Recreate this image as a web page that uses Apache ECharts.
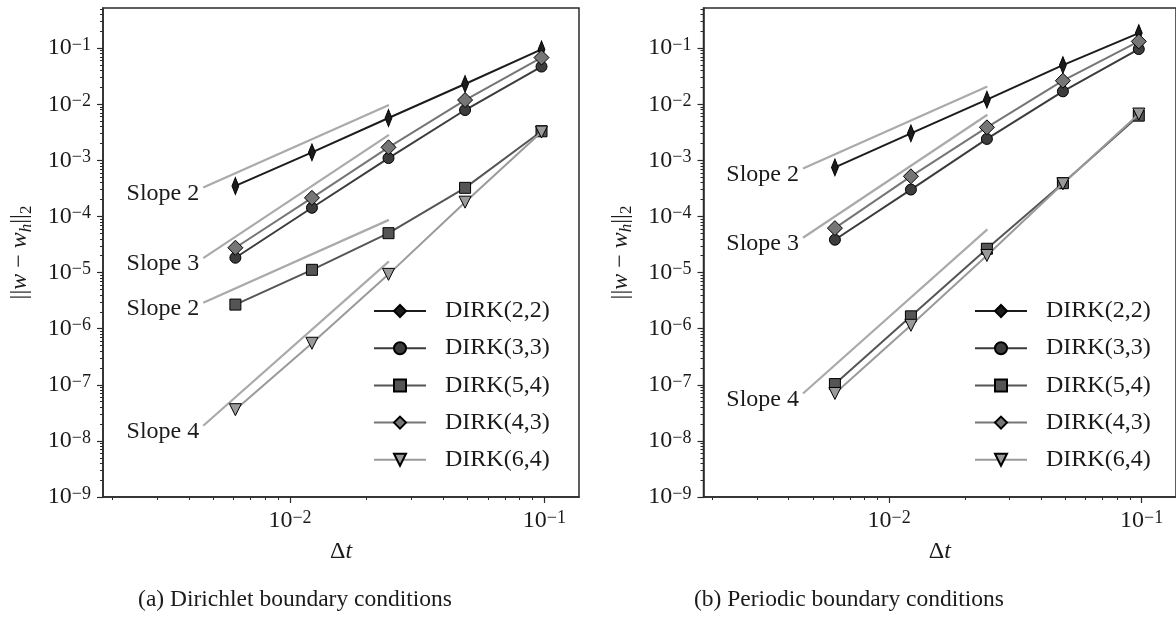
<!DOCTYPE html>
<html>
<head>
<meta charset="utf-8">
<title>DIRK convergence</title>
<script src="https://cdn.jsdelivr.net/npm/echarts@6/dist/echarts.min.js"></script>
<style>
  html, body { margin: 0; padding: 0; background: #fff; }
  #chart { width: 1176px; height: 623px; }
</style>
</head>
<body>
<div id="chart"></div>
<script>
// time steps (same for both panels)
const dt = [0.0061, 0.0122, 0.0244, 0.0488, 0.0975]
const names = ['DIRK(2,2)', 'DIRK(3,3)', 'DIRK(5,4)', 'DIRK(4,3)', 'DIRK(6,4)']

// (a) Dirichlet boundary conditions
const dirichlet22 = [3.5e-4, 1.39e-3, 5.7e-3, 0.023, 0.095]
const dirichlet33 = [1.84e-5, 1.43e-4, 1.1e-3, 7.9e-3, 0.047]
const dirichlet54 = [2.69e-6, 1.12e-5, 5.04e-5, 3.24e-4, 3.3e-3]
const dirichlet43 = [2.77e-5, 2.15e-4, 1.71e-3, 0.0119, 0.068]
const dirichlet64 = [3.6e-8, 5.5e-7, 9.3e-6, 1.8e-4, 3.2e-3]

// (b) Periodic boundary conditions
const periodic22 = [7.5e-4, 3.03e-3, 0.0121, 0.05, 0.186]
const periodic33 = [3.85e-5, 3.02e-4, 2.41e-3, 0.017, 0.0964]
const periodic54 = [1.03e-7, 1.66e-6, 2.66e-5, 3.92e-4, 6.27e-3]
const periodic43 = [6.2e-5, 5.2e-4, 3.88e-3, 0.0263, 0.132]
const periodic64 = [7e-8, 1.15e-6, 2.02e-5, 3.82e-4, 6.7e-3]

// slope guide lines: start / end at slopeDt
const slopeDt = [0.00456, 0.0245]
const dirichletSlopeLabels = ['Slope 2', 'Slope 3', 'Slope 2', 'Slope 4']
const dirichletSlopeStart = [3.3e-4, 1.81e-5, 2.91e-6, 1.86e-8]
const dirichletSlopeEnd = [9.7e-3, 2.85e-3, 8.7e-5, 1.58e-5]
const periodicSlopeLabels = ['Slope 2', 'Slope 3', 'Slope 4']
const periodicSlopeStart = [7.2e-4, 4.18e-5, 7.0e-8]
const periodicSlopeEnd = [0.0208, 6.5e-3, 5.88e-5]

// axes
const xMin = 0.00184
const xMax = 0.1369
const yMin = 1e-9
const yMax = 0.52
const xMajorTicks = [0.01, 0.1]
const xMinorTicks = [0.002, 0.003, 0.004, 0.005, 0.006, 0.007, 0.008, 0.009,
  0.02, 0.03, 0.04, 0.05, 0.06, 0.07, 0.08, 0.09]
const yMajorTicks = [1e-9, 1e-8, 1e-7, 1e-6, 1e-5, 1e-4, 1e-3, 1e-2, 1e-1]

let yMinorTicks = []
for (let p = -9; p <= -1; p++) {
  for (let m = 2; m <= 9; m++) {
    let v = m * Math.pow(10, p)
    if (v < yMax) yMinorTicks.push(v)
  }
}

const FONT = '"Liberation Serif", "DejaVu Serif", serif'
const INK = '#1a1a1a'
const FRAME = '#2a2a2a'
const SLOPE = '#aaaaaa'

const thinDiamond = 'path://M5,0L10,8L5,16L0,8Z'
const seriesStyle = [
  {color: '#1c1c1c', symbol: thinDiamond, size: [11, 17], rotate: 0},
  {color: '#3c3c3c', symbol: 'circle', size: 11, rotate: 0},
  {color: '#555555', symbol: 'rect', size: 11, rotate: 0},
  {color: '#767676', symbol: 'diamond', size: 15, rotate: 0},
  {color: '#9a9a9a', symbol: 'triangle', size: 12, rotate: 180}
]

function powerLabel (v) {
  let e = Math.round(Math.log10(v))
  return '{b|10}{e|' + (e < 0 ? '\u2212' + (-e) : e) + '}'
}

const powerRich = {
  b: {fontFamily: FONT, fontSize: 24, lineHeight: 24, color: INK},
  e: {fontFamily: FONT, fontSize: 18, lineHeight: 18, color: INK, verticalAlign: 'top'}
}

function makeAxes (g) {
  let xAxis = [
    {
      type: 'log', gridIndex: g, position: 'bottom', min: xMin, max: xMax,
      axisLine: {show: true, onZero: false, lineStyle: {color: FRAME, width: 1.5}},
      axisTick: {show: true, customValues: xMajorTicks, length: 6, lineStyle: {color: FRAME, width: 1.2}},
      axisLabel: {customValues: xMajorTicks, formatter: powerLabel, rich: powerRich, margin: 12},
      splitLine: {show: false},
      name: '{d|\u0394}{t|t}',
      nameLocation: 'middle',
      nameGap: 43,
      nameTextStyle: {
        rich: {
          d: {fontFamily: FONT, fontSize: 24, color: INK},
          t: {fontFamily: FONT, fontSize: 24, fontStyle: 'italic', color: INK}
        }
      }
    },
    {
      type: 'log', gridIndex: g, position: 'bottom', min: xMin, max: xMax,
      axisLine: {show: false},
      axisTick: {show: true, customValues: xMinorTicks, length: 3, lineStyle: {color: FRAME, width: 1}},
      axisLabel: {show: false},
      splitLine: {show: false}
    }
  ]
  let yAxis = [
    {
      type: 'log', gridIndex: g, position: 'left', min: yMin, max: yMax,
      axisLine: {show: true, onZero: false, lineStyle: {color: FRAME, width: 1.5}},
      axisTick: {show: true, customValues: yMajorTicks, length: 6, lineStyle: {color: FRAME, width: 1.2}},
      axisLabel: {customValues: yMajorTicks, formatter: powerLabel, rich: powerRich, margin: 12},
      splitLine: {show: false},
      name: '{n|||}{i|w}{n| \u2212 }{i|w}{h|h}{n|||}{s|2}',
      nameLocation: 'middle',
      nameRotate: 90,
      nameGap: 68,
      nameTextStyle: {
        rich: {
          n: {fontFamily: FONT, fontSize: 24, lineHeight: 30, color: INK},
          i: {fontFamily: FONT, fontSize: 24, lineHeight: 30, fontStyle: 'italic', color: INK},
          h: {fontFamily: FONT, fontSize: 17, lineHeight: 17, fontStyle: 'italic', color: INK, verticalAlign: 'bottom'},
          s: {fontFamily: FONT, fontSize: 17, lineHeight: 17, color: INK, verticalAlign: 'bottom'}
        }
      }
    },
    {
      type: 'log', gridIndex: g, position: 'left', min: yMin, max: yMax,
      axisLine: {show: false},
      axisTick: {show: true, customValues: yMinorTicks, length: 3, lineStyle: {color: FRAME, width: 1}},
      axisLabel: {show: false},
      splitLine: {show: false}
    }
  ]
  return {xAxis, yAxis}
}

function makeSeries (g, values) {
  return values.map((vals, k) => {
    let st = seriesStyle[k]
    return {
      name: names[k],
      type: 'line',
      xAxisIndex: g * 2,
      yAxisIndex: g * 2,
      data: dt.map((x, i) => [x, vals[i]]),
      symbol: st.symbol,
      symbolSize: st.size,
      symbolRotate: st.rotate,
      symbolKeepAspect: true,
      showSymbol: true,
      lineStyle: {color: st.color, width: 2},
      itemStyle: {color: st.color, borderColor: '#000', borderWidth: 1},
      z: 3 + k
    }
  })
}

function makeSlopes (g, labels, start, end) {
  return labels.map((lab, k) => ({
    name: 'slope-' + g + '-' + k,
    type: 'line',
    xAxisIndex: g * 2,
    yAxisIndex: g * 2,
    symbol: 'circle',
    symbolSize: 0,
    lineStyle: {color: SLOPE, width: 2.2},
    itemStyle: {color: SLOPE},
    z: 2,
    data: [
      {
        value: [slopeDt[0], start[k]],
        label: {
          show: true, formatter: lab, position: 'left', distance: 4, offset: [0, 6],
          fontFamily: FONT, fontSize: 24, color: INK
        }
      },
      [slopeDt[1], end[k]]
    ]
  }))
}

function makeLegend (left) {
  return {
    orient: 'vertical',
    left: left,
    top: 299,
    padding: 0,
    itemWidth: 52,
    itemHeight: 15,
    itemGap: 13.2,
    data: names,
    selectedMode: false,
    textStyle: {fontFamily: FONT, fontSize: 24, lineHeight: 24, color: INK, padding: [0, 0, 0, 14]}
  }
}

let axesA = makeAxes(0)
let axesB = makeAxes(1)

let myChart = echarts.init(document.getElementById('chart'))
myChart.setOption({
  animation: false,
  backgroundColor: '#fff',
  grid: [
    {left: 103, top: 8, width: 476, height: 489, show: true, borderColor: FRAME, borderWidth: 1.5},
    {left: 703.5, top: 8, width: 476, height: 489, show: true, borderColor: FRAME, borderWidth: 1.5}
  ],
  xAxis: axesA.xAxis.concat(axesB.xAxis),
  yAxis: axesA.yAxis.concat(axesB.yAxis),
  legend: [makeLegend(373), makeLegend(974)],
  series: [].concat(
    makeSlopes(0, dirichletSlopeLabels, dirichletSlopeStart, dirichletSlopeEnd),
    makeSeries(0, [dirichlet22, dirichlet33, dirichlet54, dirichlet43, dirichlet64]),
    makeSlopes(1, periodicSlopeLabels, periodicSlopeStart, periodicSlopeEnd),
    makeSeries(1, [periodic22, periodic33, periodic54, periodic43, periodic64])
  ),
  graphic: [
    {
      type: 'text', x: 295, y: 600,
      style: {text: '(a) Dirichlet boundary conditions', font: '23.5px ' + FONT, fill: INK, align: 'center', verticalAlign: 'middle'}
    },
    {
      type: 'text', x: 849, y: 600,
      style: {text: '(b) Periodic boundary conditions', font: '23.5px ' + FONT, fill: INK, align: 'center', verticalAlign: 'middle'}
    }
  ]
})
</script>
</body>
</html>
